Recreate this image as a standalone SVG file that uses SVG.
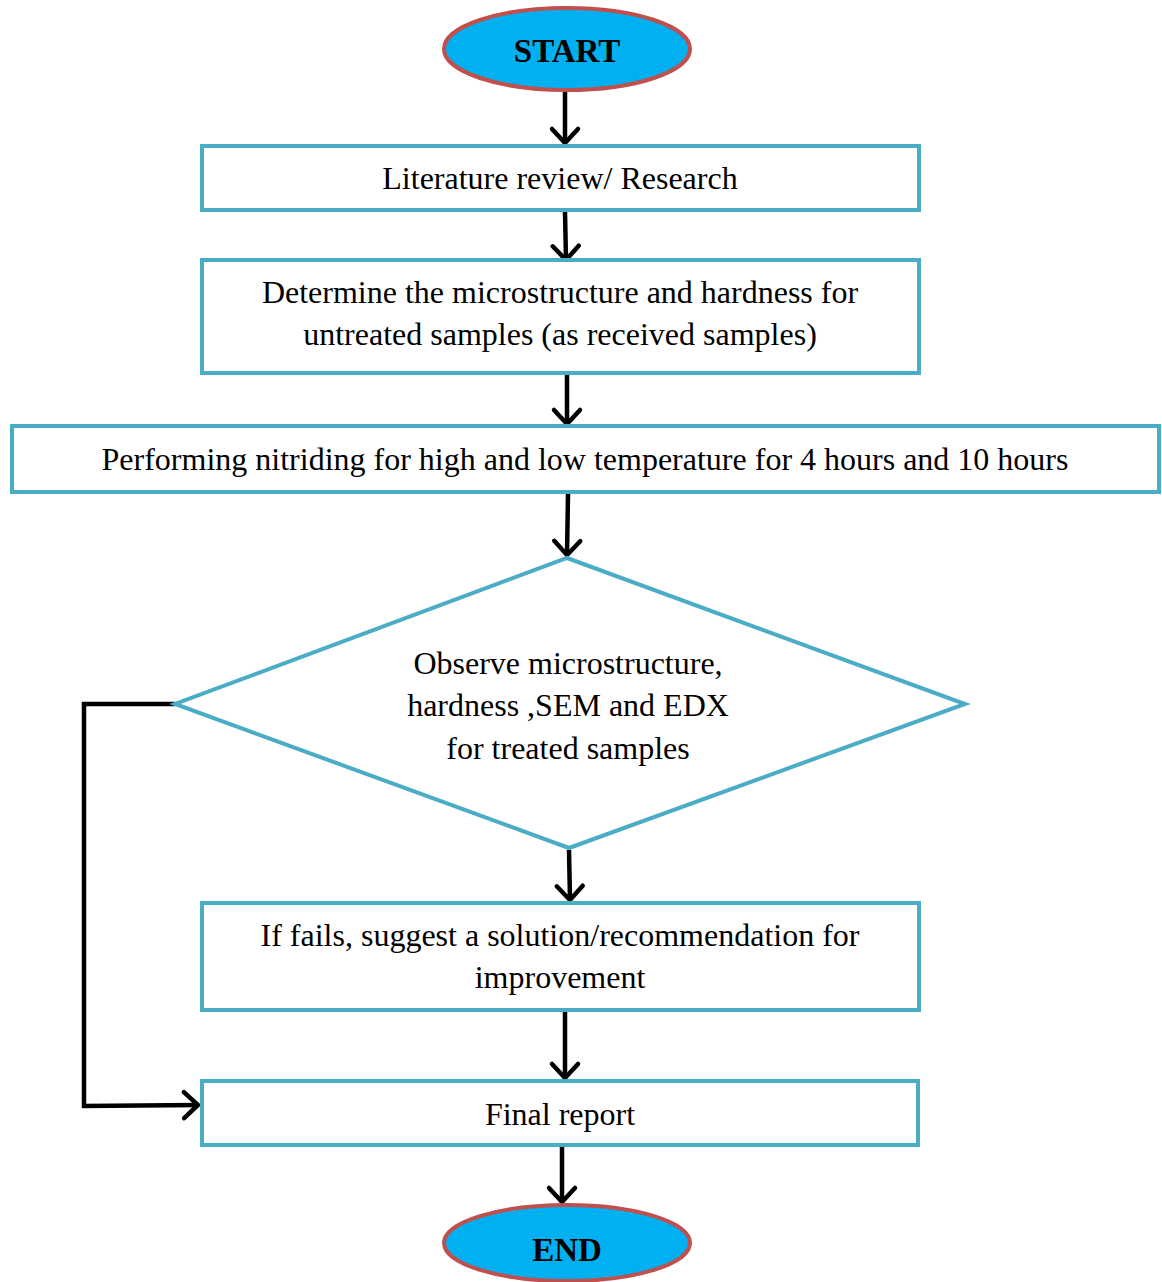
<svg xmlns="http://www.w3.org/2000/svg" width="1162" height="1282" viewBox="0 0 1162 1282">
<style>
.box{fill:#fff;stroke:#4BACC6;stroke-width:4}
.term{fill:#00B0F0;stroke:#C0504D;stroke-width:4}
.t{font-family:"Liberation Serif","Times New Roman",serif;font-size:32px;fill:#000;text-anchor:middle}
.tb{font-family:"Liberation Serif","Times New Roman",serif;font-size:33px;font-weight:bold;fill:#000;text-anchor:middle}
.c{fill:none;stroke:#000;stroke-width:4.5;stroke-linejoin:miter}
</style>
<defs>
<marker id="ah" markerUnits="userSpaceOnUse" markerWidth="40" markerHeight="40" refX="20" refY="20" orient="auto" overflow="visible">
<path d="M6,7 L20,20 L6,33" fill="none" stroke="#000" stroke-width="4.5" stroke-linecap="round" stroke-linejoin="miter"/>
</marker>
</defs>
<g id="connectors">
<path class="c" d="M565,92 L565,143" marker-end="url(#ah)"/>
<path class="c" d="M565,212 L566,260" marker-end="url(#ah)"/>
<path class="c" d="M567,375 L567,424" marker-end="url(#ah)"/>
<path class="c" d="M568,494 L567,555" marker-end="url(#ah)"/>
<path class="c" d="M569,850 L570,900" marker-end="url(#ah)"/>
<path class="c" d="M565,1012 L565,1078" marker-end="url(#ah)"/>
<path class="c" d="M562,1147 L562,1202" marker-end="url(#ah)"/>
<path class="c" d="M175,704 L84,704 L84,1106 L198,1105" marker-end="url(#ah)"/>
</g>
<g id="start">
<ellipse class="term" cx="567" cy="49" rx="123" ry="41"/>
<text class="tb" x="567" y="62">START</text>
</g>
<g id="literature">
<rect class="box" x="202" y="146" width="717" height="64"/>
<text class="t" x="560" y="189">Literature review/ Research</text>
</g>
<g id="determine">
<rect class="box" x="202" y="260" width="717" height="113"/>
<text class="t" x="560" y="303">Determine the microstructure and hardness for</text>
<text class="t" x="560" y="345">untreated samples (as received samples)</text>
</g>
<g id="nitriding">
<rect class="box" x="12" y="426" width="1147" height="66"/>
<text class="t" x="585" y="470">Performing nitriding for high and low temperature for 4 hours and 10 hours</text>
</g>
<g id="observe">
<polygon class="box" points="567,558 965,704 569,848 175,704"/>
<text class="t" x="568" y="674">Observe microstructure,</text>
<text class="t" x="568" y="716">hardness ,SEM and EDX</text>
<text class="t" x="568" y="759">for treated samples</text>
</g>
<g id="fails">
<rect class="box" x="202" y="903" width="717" height="107"/>
<text class="t" x="560" y="946">If fails, suggest a solution/recommendation for</text>
<text class="t" x="560" y="988">improvement</text>
</g>
<g id="report">
<rect class="box" x="202" y="1081" width="716" height="64"/>
<text class="t" x="560" y="1125">Final report</text>
</g>
<g id="end">
<ellipse class="term" cx="567" cy="1243" rx="123" ry="38"/>
<text class="tb" x="567" y="1261">END</text>
</g>
</svg>
